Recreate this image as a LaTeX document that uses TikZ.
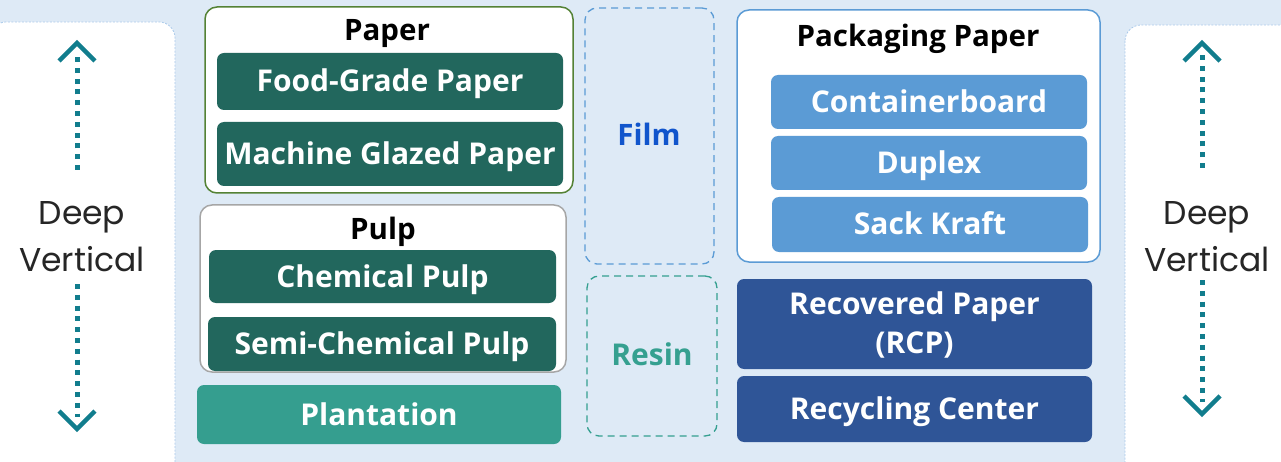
\documentclass[tikz,border=0pt]{standalone}
\usepackage{fontspec}
\setmainfont{Open Sans}
\newfontfamily\dvfont{Poppins}
\usetikzlibrary{calc}

\definecolor{bgblue}{HTML}{DEEAF6}
\definecolor{panelline}{HTML}{A9C9EA}
\definecolor{darkteal}{HTML}{22675D}
\definecolor{plant}{HTML}{359E8F}
\definecolor{pkgblue}{HTML}{5B9BD5}
\definecolor{navy}{HTML}{2F5597}
\definecolor{arrowteal}{HTML}{117D8D}
\definecolor{filmblue}{HTML}{1155CC}
\definecolor{resintext}{HTML}{35A090}
\definecolor{paperline}{HTML}{548235}
\definecolor{pulpline}{HTML}{A6A6A6}

\tikzset{
  capcentre/.style={text height=21pt, text depth=0pt},
  groupbox/.style={draw, line width=1.5pt, fill=white, rounded corners=12pt, inner sep=0pt},
  grouptitle/.style={font=\bfseries\fontsize{29.5}{34}\selectfont, text=black, inner sep=0pt, capcentre},
  itemstyle/.style={rounded corners=7pt, inner sep=0pt, text=white, align=center,
    font=\bfseries\fontsize{30}{39}\selectfont},
  itembox/.style={itemstyle, capcentre},
  dashbox/.style={draw, line width=1.3pt, dash pattern=on 7pt off 5pt, rounded corners=12pt, inner sep=0pt},
  sidetext/.style={font=\dvfont\fontsize{33}{47}\selectfont, text=black!85, align=center, inner sep=0pt},
  dotline/.style={draw=arrowteal, line width=5pt, dash pattern=on 5pt off 5.8pt},
  chev/.style={draw=arrowteal, line width=4.5pt, line join=miter},
  sidepanel/.style={fill=white, draw=panelline, line width=0.8pt, dash pattern=on 2pt off 1.5pt}
}

\begin{document}
\begin{tikzpicture}[x=1pt, y=-1pt]
  \useasboundingbox (0,0) rectangle (1281,462);
  % light blue backdrop
  \fill[bgblue, rounded corners=14pt] (-20,-20) rectangle (1301,462);

  % white side panels
  \path[sidepanel, rounded corners=16pt] (-10,22) rectangle (175,490);
  \path[sidepanel, rounded corners=16pt] (1125,25) rectangle (1300,490);

  % Paper group
  \node[groupbox, draw=paperline, minimum width=368pt, minimum height=186pt] (paper) at (389,100) {};
  \node[grouptitle] (papert) at (387,30) {Paper};
  \node[itembox, fill=darkteal, minimum width=346pt, minimum height=57pt] (food) at (390,81.5) {Food-Grade Paper};
  \node[itembox, fill=darkteal, minimum width=346pt, minimum height=64pt] (mgp) at (390,154) {Machine Glazed Paper};

  % Pulp group
  \node[groupbox, draw=pulpline, minimum width=366pt, minimum height=167pt] (pulp) at (383,288.5) {};
  \node[grouptitle] (pulpt) at (383,229) {Pulp};
  \node[itembox, fill=darkteal, minimum width=347pt, minimum height=53pt] (chem) at (382.5,276.5) {Chemical Pulp};
  \node[itembox, fill=darkteal, minimum width=348pt, minimum height=54pt] (semi) at (382,344) {Semi-Chemical Pulp};

  % Plantation
  \node[itembox, fill=plant, minimum width=364pt, minimum height=59pt] (plant) at (379,414.5) {Plantation};

  % Film and Resin
  \node[dashbox, draw=pkgblue, minimum width=129pt, minimum height=256pt] (film) at (649.5,136) {};
  \node[font=\bfseries\fontsize{29.5}{34}\selectfont, text=filmblue, inner sep=0pt, capcentre] (filmt) at (649,135) {Film};
  \node[dashbox, draw=resintext, minimum width=130pt, minimum height=160pt] (resin) at (652,356) {};
  \node[font=\bfseries\fontsize{30}{34}\selectfont, text=resintext, inner sep=0pt, capcentre] (resint) at (652,355) {Resin};

  % Packaging Paper group
  \node[groupbox, draw=pkgblue, minimum width=363pt, minimum height=252pt] (pkg) at (918.5,136) {};
  \node[grouptitle] (pkgt) at (918,36) {Packaging Paper};
  \node[itembox, fill=pkgblue, minimum width=316pt, minimum height=54pt] (cb) at (929,102) {Containerboard};
  \node[itembox, fill=pkgblue, minimum width=316pt, minimum height=54pt] (dup) at (929,163) {Duplex};
  \node[itembox, fill=pkgblue, minimum width=316pt, minimum height=55pt] (sack) at (930,224.5) {Sack Kraft};

  % Recovered paper and recycling
  \node[itemstyle, text depth=2pt, fill=navy, minimum width=355pt, minimum height=90pt] (rcp) at (914.5,324) {Recovered Paper\\(RCP)};
  \node[itembox, fill=navy, minimum width=355pt, minimum height=66pt] (rec) at (914.5,409) {Recycling Center};

  % Deep Vertical, left
  \node[sidetext] (dvl) at (82,237) {Deep\\Vertical};
  \coordinate (lup) at (77,43);
  \coordinate (ldn) at (77,429);
  \coordinate (lupEnd) at (77,170);
  \coordinate (ldnEnd) at (77,284);
  \draw[dotline] (lupEnd) -- ($(lup)+(0,12)$);
  \draw[dotline] (ldnEnd) -- ($(ldn)+(0,-12)$);
  \draw[chev] ($(lup)+(-18,18)$) -- (lup) -- ($(lup)+(18,18)$);
  \draw[chev] ($(ldn)+(-18,-18)$) -- (ldn) -- ($(ldn)+(18,-18)$);

  % Deep Vertical, right
  \node[sidetext] (dvr) at (1207,237) {Deep\\Vertical};
  \coordinate (rup) at (1202,43);
  \coordinate (rdn) at (1202,414);
  \coordinate (rupEnd) at (1202,168);
  \coordinate (rdnEnd) at (1202,280);
  \draw[dotline] (rupEnd) -- ($(rup)+(0,12)$);
  \draw[dotline] (rdnEnd) -- ($(rdn)+(0,-12)$);
  \draw[chev] ($(rup)+(-18,18)$) -- (rup) -- ($(rup)+(18,18)$);
  \draw[chev] ($(rdn)+(-18,-18)$) -- (rdn) -- ($(rdn)+(18,-18)$);
\end{tikzpicture}
\end{document}
